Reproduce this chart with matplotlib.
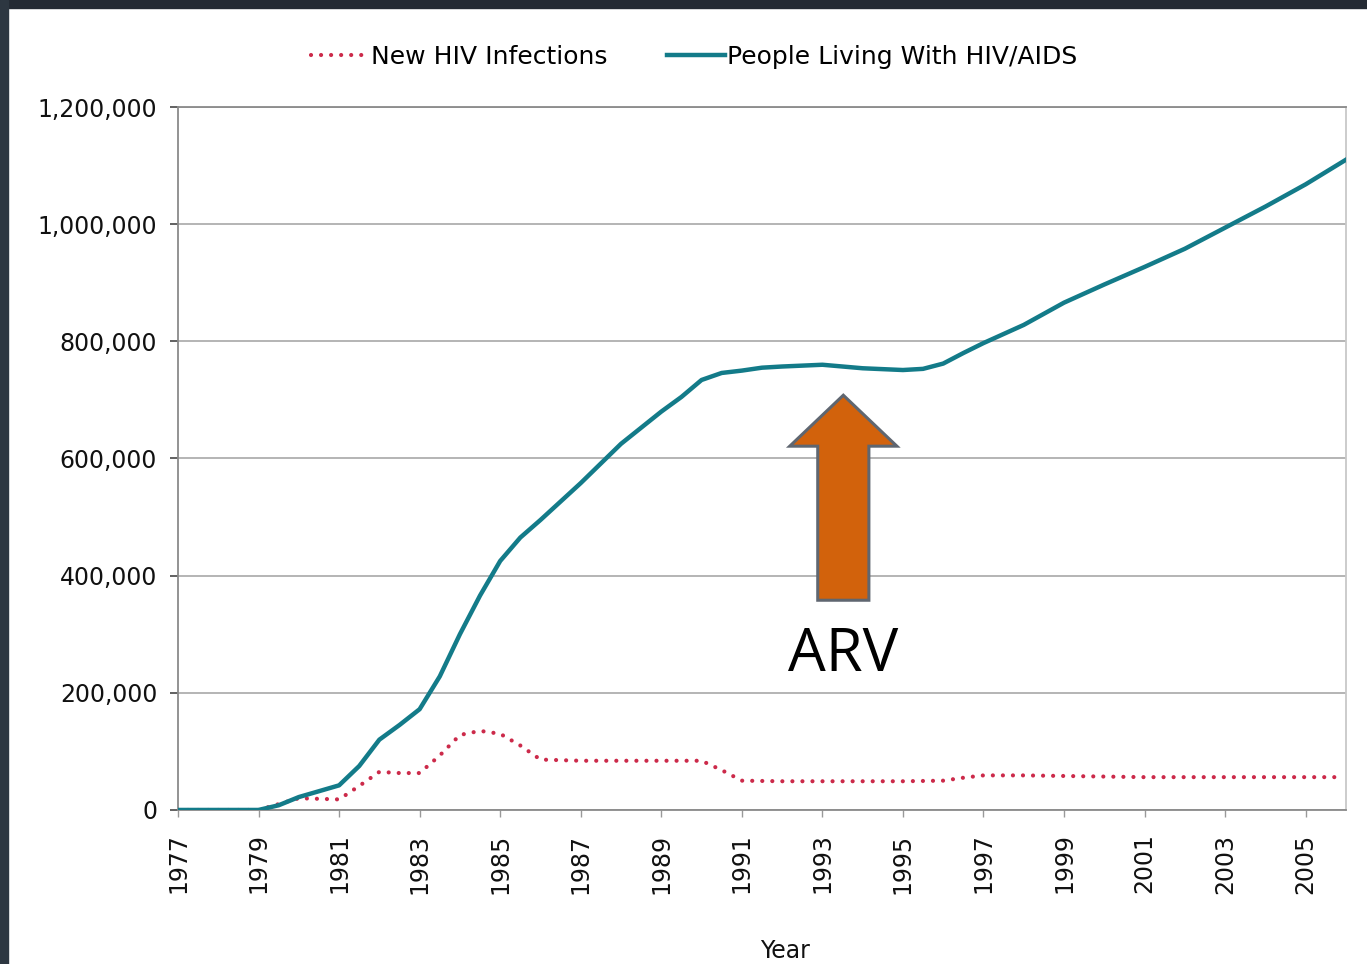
import matplotlib
matplotlib.use("Agg")
import matplotlib.pyplot as plt
import matplotlib.patches as mpatches
from matplotlib.ticker import FuncFormatter

# People living with HIV/AIDS
years_living = [1977, 1978, 1979, 1979.5, 1980, 1980.5, 1981, 1981.5, 1982, 1982.5,
                1983, 1983.5, 1984, 1984.5, 1985, 1985.5, 1986, 1987, 1988, 1989,
                1989.5, 1990, 1990.5, 1991, 1991.5, 1992, 1993, 1994, 1995, 1995.5,
                1996, 1996.5, 1997, 1998, 1999, 2000, 2001, 2002, 2003, 2004,
                2005, 2006]
living = [0, 0, 0, 8000, 22000, 32000, 42000, 75000, 120000, 145000,
          172000, 228000, 300000, 366000, 425000, 465000, 495000, 558000, 625000, 680000,
          705000, 734000, 746000, 750000, 755000, 757000, 760000, 754000, 751000, 753000,
          762000, 780000, 797000, 828000, 866000, 897000, 927000, 958000, 994000, 1030000,
          1068000, 1110000]

# New HIV infections
years_new = [1977, 1978, 1979, 1980, 1980.5, 1981, 1981.5, 1982, 1982.5, 1983,
             1983.5, 1984, 1984.5, 1985, 1985.5, 1986, 1987, 1988, 1989, 1990,
             1990.5, 1991, 1992, 1993, 1994, 1995, 1996, 1996.5, 1997, 1998,
             1999, 2000, 2001, 2002, 2003, 2004, 2005, 2005.8]
new_inf = [0, 0, 0, 20000, 19000, 18000, 41000, 65000, 63000, 63000,
           93000, 128000, 135000, 130000, 110000, 86000, 84000, 84000, 84000, 84000,
           68000, 50000, 49000, 49000, 49000, 49000, 50000, 55000, 59000, 59000,
           58000, 57000, 56000, 56000, 56000, 56000, 56000, 56000]

x_ticks = list(range(1977, 2006, 2))
y_ticks = [0, 200000, 400000, 600000, 800000, 1000000, 1200000]

fig = plt.figure(figsize=(13.67, 9.64), dpi=100)
ax = fig.add_axes([0.1302, 0.1598, 0.8544, 0.7292])

ax.plot(years_new, new_inf, color="#cc2a4a", lw=3, linestyle=(0, (0.01, 2.4)),
        dash_capstyle="round", label="New HIV Infections", zorder=3)
ax.plot(years_living, living, color="#137b89", lw=3.2,
        label="People Living With HIV/AIDS", zorder=4)

ax.set_xlim(1977, 2006)
ax.set_ylim(0, 1200000)
ax.set_yticks(y_ticks)
ax.set_xticks(x_ticks)
ax.yaxis.set_major_formatter(FuncFormatter(lambda v, p: f"{int(v):,}"))
ax.xaxis.set_major_formatter(FuncFormatter(lambda v, p: f"{int(v)}"))

ax.grid(axis="y", color="#a8a8a8", lw=1.2)
ax.set_axisbelow(True)
for side in ["left", "bottom", "top"]:
    ax.spines[side].set_color("#8a8a8a")
    ax.spines[side].set_linewidth(1.3)
ax.spines["right"].set_color("#c8c8c8")
ax.spines["right"].set_linewidth(1.3)

ax.tick_params(axis="y", direction="out", length=6, width=1.3, color="#555555",
               pad=9, labelsize=17, labelcolor="#111111")
ax.tick_params(axis="x", direction="out", length=5, width=1, color="#999999",
               pad=12, labelsize=17, labelcolor="#111111", labelrotation=90)

ax.set_xlabel("Year", fontsize=17, color="#111111")
ax.xaxis.set_label_coords(0.52, -0.183)

# ARV arrow annotation
arrow = mpatches.FancyArrow(1993.52, 358000, 0, 350000, width=1.27, head_width=2.66,
                            head_length=87000, length_includes_head=True,
                            fc="#d2620c", ec="#5f6670", lw=2.2, zorder=5)
ax.add_patch(arrow)
ax.text(1993.52, 265000, "ARV", fontsize=43, family=["Open Sans", "DejaVu Sans"],
        ha="center", va="center", color="black", zorder=5)

fig.legend(loc="center", bbox_to_anchor=(0.5077, 0.9409), ncol=2, frameon=False,
           fontsize=18, handlelength=2.3, handletextpad=0.1, columnspacing=2.4)

# dark slide frame on top and left edges
fig.patches.append(mpatches.Rectangle((0, 1 - 8 / 964), 1, 8 / 964,
                                      transform=fig.transFigure, color="#232a33"))
fig.patches.append(mpatches.Rectangle((0, 0), 8 / 1367, 1,
                                      transform=fig.transFigure, color="#2d3741"))

fig.savefig("out.png", dpi=100)
